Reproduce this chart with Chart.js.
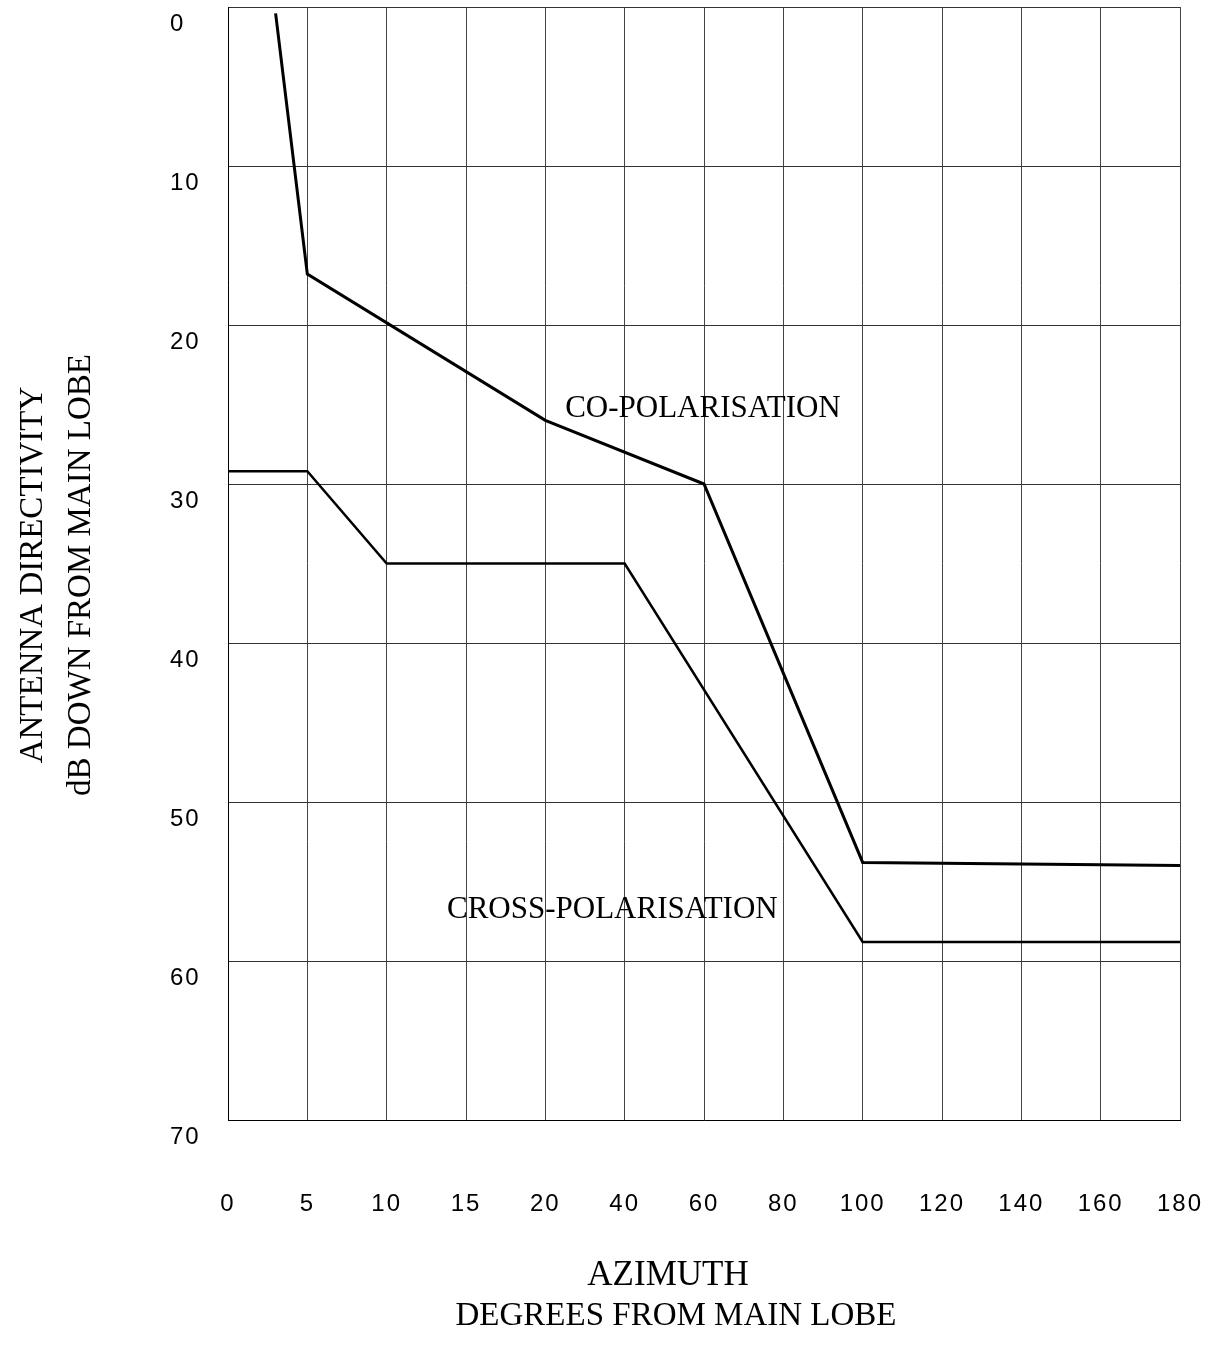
<!DOCTYPE html>
<html lang="en">
<head>
    <meta charset="UTF-8">
    <title>Antenna Directivity</title>
    <script src="https://cdn.jsdelivr.net/npm/chart.js"></script>
    <style>
        body {
            margin: 0;
            padding: 0;
            background-color: #ffffff;
        }
        .chart-container {
            width: 1230px;
            height: 1362px;
        }
    </style>
</head>
<body>
    <div class="chart-container">
        <canvas id="directivityChart"></canvas>
    </div>

    <script>
        // x axis is not linear: every tick gets one equal column
        const azimuthTicks = [0, 5, 10, 15, 20, 40, 60, 80, 100, 120, 140, 160, 180];
        const dbTicks = [0, 10, 20, 30, 40, 50, 60, 70];

        const coPolAzimuth = [3, 5, 20, 60, 100, 180];
        const coPolDb = [0.4, 16.8, 26, 30, 53.8, 54];

        const crossPolAzimuth = [0, 5, 10, 40, 100, 180];
        const crossPolDb = [29.2, 29.2, 35, 35, 58.8, 58.8];

        // degrees -> position on the column axis
        function toIndex(deg) {
            for (let i = 0; i < azimuthTicks.length - 1; i++) {
                const a = azimuthTicks[i], b = azimuthTicks[i + 1];
                if (deg <= b) {
                    return i + (deg - a) / (b - a);
                }
            }
            return azimuthTicks.length - 1;
        }

        function toPoints(az, db) {
            return az.map((a, i) => ({ x: toIndex(a), y: db[i] }));
        }

        const tickFont = { family: 'Liberation Sans, Arial, sans-serif', size: 24 };
        const serif = 'Liberation Serif, Times New Roman, serif';

        const textPlugin = {
            id: 'texts',
            beforeDraw(chart) {
                chart.ctx.letterSpacing = '2px'; // spaced tick digits
            },
            beforeDatasetsDraw(chart) {
                chart.ctx.letterSpacing = '0px';
            },
            afterDatasetsDraw(chart) {
                const ctx = chart.ctx;
                const xs = chart.scales.x, ys = chart.scales.y;
                ctx.save();
                ctx.fillStyle = '#000';
                ctx.textAlign = 'left';
                ctx.textBaseline = 'alphabetic';
                ctx.font = '31px ' + serif;
                ctx.fillText('CO-POLARISATION', xs.getPixelForValue(toIndex(25)), ys.getPixelForValue(25.8));
                ctx.fillText('CROSS-POLARISATION', xs.getPixelForValue(toIndex(13.8)), ys.getPixelForValue(57.3));
                ctx.restore();
            },
            afterDraw(chart) {
                const ctx = chart.ctx;
                const area = chart.chartArea;
                ctx.save();
                ctx.letterSpacing = '0px';
                ctx.fillStyle = '#000';
                ctx.textAlign = 'center';
                ctx.textBaseline = 'alphabetic';

                // x title
                ctx.font = '35px ' + serif;
                ctx.fillText('AZIMUTH', 668, area.bottom + 165);
                ctx.font = '33px ' + serif;
                ctx.fillText('DEGREES FROM MAIN LOBE', 676, area.bottom + 205);

                // y title, rotated
                ctx.font = '33px ' + serif;
                ctx.translate(0, 575);
                ctx.rotate(-Math.PI / 2);
                ctx.fillText('ANTENNA DIRECTIVITY', 0, 42);
                ctx.fillText('dB DOWN FROM MAIN LOBE', 0, 90);
                ctx.restore();
            }
        };

        const ctx = document.getElementById('directivityChart').getContext('2d');
        const chart = new Chart(ctx, {
            type: 'line',
            data: {
                datasets: [
                    {
                        label: 'CO-POLARISATION',
                        data: toPoints(coPolAzimuth, coPolDb),
                        borderColor: '#000',
                        borderWidth: 3,
                        pointRadius: 0,
                        tension: 0
                    },
                    {
                        label: 'CROSS-POLARISATION',
                        data: toPoints(crossPolAzimuth, crossPolDb),
                        borderColor: '#000',
                        borderWidth: 2.5,
                        pointRadius: 0,
                        tension: 0
                    }
                ]
            },
            options: {
                responsive: true,
                maintainAspectRatio: false,
                animation: false,
                layout: {
                    padding: { left: 170, right: 50, top: 7, bottom: 142 }
                },
                plugins: {
                    legend: { display: false },
                    tooltip: { enabled: false }
                },
                scales: {
                    x: {
                        type: 'linear',
                        min: 0,
                        max: azimuthTicks.length - 1,
                        afterFit: (s) => {
                            s.height = 100;
                            s.paddingLeft = 0;
                            s.paddingRight = 0;
                        },
                        ticks: {
                            stepSize: 1,
                            autoSkip: false,
                            maxRotation: 0,
                            padding: 70,
                            color: '#000',
                            font: tickFont,
                            callback: (v) => azimuthTicks[v]
                        },
                        grid: { color: '#444', lineWidth: 1, drawTicks: false },
                        border: { color: '#000' }
                    },
                    y: {
                        reverse: true,
                        min: dbTicks[0],
                        max: dbTicks[dbTicks.length - 1],
                        afterFit: (s) => {
                            s.width = 58;
                            s.paddingTop = 0;
                            s.paddingBottom = 0;
                        },
                        ticks: {
                            stepSize: 10,
                            crossAlign: 'far',
                            labelOffset: 17,
                            color: '#000',
                            font: tickFont
                        },
                        grid: { color: '#333', lineWidth: 1, drawTicks: false },
                        border: { color: '#000' }
                    }
                }
            },
            plugins: [textPlugin]
        });
    </script>
</body>
</html>
